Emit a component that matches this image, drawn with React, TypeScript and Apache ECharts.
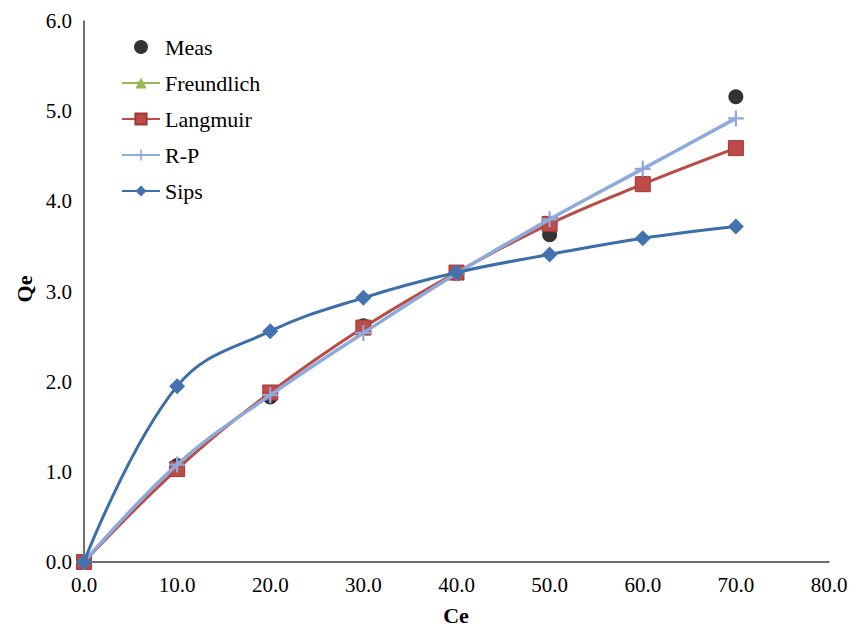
import React, { useEffect, useRef } from "react";
import * as echarts from "echarts";

const ceValues = [0, 10, 20, 30, 40, 50, 60, 70];
const measValues = [0, 1.07, 1.83, 2.62, 3.2, 3.63, 4.2, 5.16];
const freundlichValues = [0, 1.03, 1.88, 2.6, 3.21, 3.75, 4.19, 4.59];
const langmuirValues = [0, 1.03, 1.88, 2.6, 3.21, 3.75, 4.19, 4.59];
const rpValues = [0, 1.08, 1.85, 2.54, 3.2, 3.8, 4.36, 4.92];
const sipsValues = [0, 1.95, 2.56, 2.93, 3.21, 3.41, 3.59, 3.72];
const xTicks = [0, 80, 10];
const yTicks = [0, 6, 1];
const xName = "Ce";
const yName = "Qe";

const pair = (ys: number[]) => ceValues.map((x, i) => [x, ys[i]]);

const plusPath =
  "path://M4.3,0H5.7V4.3H10V5.7H5.7V10H4.3V5.7H0V4.3H4.3Z";

const FONT = "Times New Roman";

const nameStyle = (text: string) => ({
  text,
  fontFamily: FONT,
  fontSize: 22,
  fontWeight: "bold",
  fill: "#000",
  align: "center",
  verticalAlign: "middle",
  textAlign: "center",
  textVerticalAlign: "middle",
});

export default function App() {
  const ref = useRef<HTMLDivElement>(null);
  useEffect(() => {
    if (!ref.current) return;
    const chart = echarts.init(ref.current, undefined, { renderer: "svg" });
    chart.setOption({
      animation: false,
      backgroundColor: "#ffffff",
      textStyle: { fontFamily: FONT },
      grid: {
        left: 84,
        right: 33,
        top: 21,
        bottom: 66,
        containLabel: false,
        outerBoundsMode: "none",
      },
      legend: {
        orient: "vertical",
        left: 116,
        top: 31,
        itemWidth: 38,
        itemHeight: 14,
        itemGap: 14,
        textStyle: { fontFamily: FONT, fontSize: 22, color: "#000" },
        data: ["Meas", "Freundlich", "Langmuir", "R-P", "Sips"],
      },
      graphic: [
        { type: "text", x: 456, y: 615, style: nameStyle(xName) },
        { type: "text", x: 24, y: 289, rotation: Math.PI / 2, style: nameStyle(yName) },
      ],
      xAxis: {
        type: "value",
        min: xTicks[0],
        max: xTicks[1],
        interval: xTicks[2],
        axisLine: { lineStyle: { color: "#404040", width: 1.5 } },
        axisTick: { show: false },
        splitLine: { show: false },
        axisLabel: {
          fontFamily: FONT,
          fontSize: 21,
          color: "#000",
          margin: 12,
          formatter: (v: number) => v.toFixed(1),
        },
      },
      yAxis: {
        type: "value",
        min: yTicks[0],
        max: yTicks[1],
        interval: yTicks[2],
        axisLine: { show: true, lineStyle: { color: "#404040", width: 1.5 } },
        axisTick: { show: false },
        splitLine: { show: false },
        axisLabel: {
          fontFamily: FONT,
          fontSize: 21,
          color: "#000",
          margin: 12,
          formatter: (v: number) => v.toFixed(1),
        },
      },
      series: [
        {
          name: "Meas",
          type: "scatter",
          data: pair(measValues),
          symbol: "circle",
          symbolSize: 15,
          itemStyle: { color: "#000000" },
          z: 1,
        },
        {
          name: "Freundlich",
          type: "line",
          data: pair(freundlichValues),
          smooth: 0.4,
          symbol: "triangle",
          symbolSize: 12,
          lineStyle: { color: "#98B954", width: 2.5 },
          itemStyle: { color: "#98B954" },
          z: 2,
        },
        {
          name: "Langmuir",
          type: "line",
          data: pair(langmuirValues),
          smooth: 0.4,
          symbol: "rect",
          symbolSize: 15,
          lineStyle: { color: "#BE4B48", width: 3 },
          itemStyle: { color: "#BE4B48", borderColor: "#9C3B38", borderWidth: 1 },
          z: 3,
        },
        {
          name: "R-P",
          type: "line",
          data: pair(rpValues),
          smooth: 0.4,
          symbol: plusPath,
          symbolSize: 16,
          lineStyle: { color: "#8EAADB", width: 3.5 },
          itemStyle: { color: "#8EAADB" },
          z: 4,
        },
        {
          name: "Sips",
          type: "line",
          data: pair(sipsValues),
          smooth: 0.4,
          symbol: "diamond",
          symbolSize: 16,
          lineStyle: { color: "#3C6EA8", width: 3 },
          itemStyle: { color: "#4472B0" },
          z: 5,
        },
      ],
    });
    return () => chart.dispose();
  }, []);
  return (
    <div
      ref={ref}
      style={{ position: "absolute", left: 0, top: 0, width: 862, height: 628 }}
    />
  );
}
